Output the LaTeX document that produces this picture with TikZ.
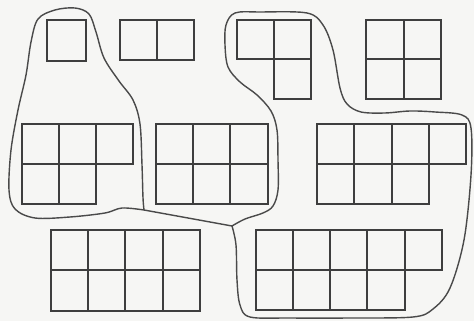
\documentclass[tikz,border=0pt]{standalone}
\usepackage{tikz}
\definecolor{papier}{HTML}{F6F6F4}
\definecolor{strich}{HTML}{3E3E3E}
\definecolor{linie}{HTML}{4A4A4A}
\tikzset{
  feld/.style={draw=strich,line width=1.7pt},
  kurve/.style={linie,line width=1.2pt,line join=round},
}
\begin{document}
\begin{tikzpicture}[x=0.03cm,y=-0.03cm]
  % --- Hintergrund ---
  \fill[papier] (0,0) rectangle (474,321);
  % --- obere Reihe ---
  \draw[feld] (47,20) rectangle (86,61);
  \begin{scope}[shift={(120,20)}]
    \foreach \i/\j in {0/0,1/0}
      \draw[feld] (\i*37,\j*40.5) rectangle ++(37,40.5);
  \end{scope}
  \begin{scope}[shift={(237,20)}]
    \foreach \i/\j in {0/0,1/0,1/1}
      \draw[feld] (\i*37,\j*39.5) rectangle ++(37,39.5);
  \end{scope}
  \begin{scope}[shift={(366,20)}]
    \foreach \i/\j in {0/0,1/0,0/1,1/1}
      \draw[feld] (\i*37.5,\j*39.5) rectangle ++(37.5,39.5);
  \end{scope}
  % --- mittlere Reihe ---
  \begin{scope}[shift={(21.7,124)}]
    \foreach \i/\j in {0/0,1/0,2/0,0/1,1/1}
      \draw[feld] (\i*37.1,\j*40) rectangle ++(37.1,40);
  \end{scope}
  \begin{scope}[shift={(156,124)}]
    \foreach \i/\j in {0/0,1/0,2/0,0/1,1/1,2/1}
      \draw[feld] (\i*37.2,\j*40) rectangle ++(37.2,40);
  \end{scope}
  \begin{scope}[shift={(317,124)}]
    \foreach \i/\j in {0/0,1/0,2/0,3/0,0/1,1/1,2/1}
      \draw[feld] (\i*37.3,\j*40) rectangle ++(37.3,40);
  \end{scope}
  % --- untere Reihe ---
  \begin{scope}[shift={(50.7,230)}]
    \foreach \i/\j in {0/0,1/0,2/0,3/0,0/1,1/1,2/1,3/1}
      \draw[feld] (\i*37.3,\j*40.3) rectangle ++(37.3,40.3);
  \end{scope}
  \begin{scope}[shift={(255.7,230)}]
    \foreach \i/\j in {0/0,1/0,2/0,3/0,4/0,0/1,1/1,2/1,3/1}
      \draw[feld] (\i*37.2,\j*40) rectangle ++(37.2,40);
  \end{scope}
  % --- Umrandungen ---
  \coordinate (ja) at (144,210);
  \coordinate (jb) at (232,226);
  \draw[kurve] plot[smooth,tension=0.55] coordinates {
    (ja) (122,208) (105,213) (70,217) (35,218) (15,209) (9,190) (11,150)
    (18,110) (26,75) (31,42) (38,19) (55,10) (75,8) (89,14) (96,32)
    (104,58) (119,81) (133,100) (140,124) (142,165) (143,198) (ja)};
  \draw[kurve] (ja) -- (jb);
  \draw[kurve] plot[smooth,tension=0.55] coordinates {
    (jb) (245,219) (263,213) (273,206) (278,190) (278,160) (277,130)
    (271,111) (257,95) (240,82) (228,67) (225,45) (226,25) (235,13)
    (260,12) (307,13) (323,25) (333,50) (340,88) (347,104) (361,112)
    (385,113) (410,111) (435,112) (462,115) (471,128) (471,175)
    (464,240) (450,288) (433,309) (413,317) (350,318) (290,318)
    (250,317) (240,305) (237,280) (236,245) (jb)};
\end{tikzpicture}
\end{document}
